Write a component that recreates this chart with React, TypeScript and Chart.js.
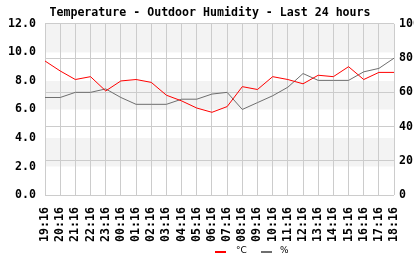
import React, { useEffect, useRef } from "react";
import { Chart, registerables } from "chart.js";

Chart.register(...registerables);

const hours = [
  "19:16", "20:16", "21:16", "22:16", "23:16", "00:16", "01:16", "02:16",
  "03:16", "04:16", "05:16", "06:16", "07:16", "08:16", "09:16", "10:16",
  "11:16", "12:16", "13:16", "14:16", "15:16", "16:16", "17:16", "18:16",
];
const temperature = [
  9.4, 8.7, 8.1, 8.3, 7.3, 8.0, 8.1, 7.9, 7.0, 6.6, 6.1, 5.8,
  6.2, 7.6, 7.4, 8.3, 8.1, 7.8, 8.4, 8.3, 9.0, 8.1, 8.6, 8.6,
];
const humidity = [
  57, 57, 60, 60, 62, 57, 53, 53, 53, 56, 56, 59,
  60, 50, 54, 58, 63, 71, 67, 67, 67, 72, 74, 80,
];
const titleText = "Temperature - Outdoor Humidity - Last 24 hours";
const seriesNames = ["°C", "%"];
const seriesColors = ["#ff0000", "#6e6e6e"];

const FONT = "'DejaVu Sans Mono', monospace";
const FSIZE = 11.6;

const bandsPlugin = {
  id: "bands",
  beforeDraw(chart: any) {
    const { ctx, chartArea, scales } = chart;
    const y = scales.y;
    ctx.save();
    ctx.fillStyle = "#f3f3f3";
    const ticks = y.ticks.map((t: any) => t.value);
    for (let i = 0; i < ticks.length - 1; i++) {
      const a = ticks[i];
      const b = ticks[i + 1];
      if (Math.round(a / 2) % 2 === 1) {
        const ya = y.getPixelForValue(a);
        const yb = y.getPixelForValue(b);
        ctx.fillRect(chartArea.left, yb, chartArea.right - chartArea.left, ya - yb);
      }
    }
    ctx.restore();
  },
};

const legendPlugin = {
  id: "customLegend",
  afterDraw(chart: any) {
    const { ctx } = chart;
    const items = [
      { x: 215, tx: 236 },
      { x: 261, tx: 280 },
    ];
    ctx.save();
    items.forEach((it, i) => {
      ctx.strokeStyle = seriesColors[i];
      ctx.lineWidth = 2;
      ctx.beginPath();
      ctx.moveTo(it.x, 252);
      ctx.lineTo(it.x + 11, 252);
      ctx.stroke();
      ctx.fillStyle = "#000";
      ctx.font = "9px 'DejaVu Sans'";
      ctx.textBaseline = "middle";
      ctx.textAlign = "left";
      ctx.fillText(seriesNames[i], it.tx, 251);
    });
    ctx.restore();
  },
};

export default function App() {
  const ref = useRef<HTMLCanvasElement>(null);

  useEffect(() => {
    document.body.style.margin = "0";
    const tickFont = { family: FONT, size: FSIZE, weight: "bold" as const };
    const chart = new Chart(ref.current!, {
      type: "line",
      data: {
        labels: hours,
        datasets: [
          {
            label: seriesNames[0],
            data: temperature,
            borderColor: seriesColors[0],
            backgroundColor: seriesColors[0],
            borderWidth: 1,
            pointRadius: 0,
            tension: 0,
            yAxisID: "y",
          },
          {
            label: seriesNames[1],
            data: humidity,
            borderColor: seriesColors[1],
            backgroundColor: seriesColors[1],
            borderWidth: 1,
            pointRadius: 0,
            tension: 0,
            yAxisID: "y1",
          },
        ],
      },
      options: {
        responsive: false,
        animation: false,
        layout: { padding: 0 },
        plugins: {
          legend: { display: false },
          tooltip: { enabled: false },
          title: {
            display: true,
            text: titleText,
            color: "#000",
            font: tickFont,
            padding: { top: 6, bottom: 4 },
          },
        },
        scales: {
          x: {
            type: "category",
            offset: false,
            grid: { color: "#cccccc", drawTicks: false, offset: false },
            border: { display: false },
            ticks: {
              color: "#000",
              font: tickFont,
              minRotation: 90,
              maxRotation: 90,
              autoSkip: false,
              padding: 12,
            },
            afterFit: (s: any) => {
              s.height = 65;
            },
          },
          y: {
            position: "left",
            min: 0,
            max: 12,
            grid: { display: false, drawTicks: false },
            border: { display: false },
            ticks: {
              stepSize: 2,
              color: "#000",
              font: tickFont,
              padding: 9,
              callback: (v: any) => Number(v).toFixed(1),
            },
            afterFit: (s: any) => {
              s.width = 45;
            },
          },
          y1: {
            position: "right",
            min: 0,
            max: 100,
            grid: { color: "#cccccc", drawTicks: false },
            border: { display: false },
            ticks: {
              stepSize: 20,
              color: "#000",
              font: tickFont,
              padding: 5,
            },
            afterFit: (s: any) => {
              s.width = 20;
            },
          },
        },
      },
      plugins: [bandsPlugin, legendPlugin],
    });
    return () => chart.destroy();
  }, []);

  return (
    <div style={{ position: "fixed", left: 0, top: 0, width: 420, height: 260 }}>
      <canvas ref={ref} width={420} height={260} style={{ display: "block" }} />
    </div>
  );
}
